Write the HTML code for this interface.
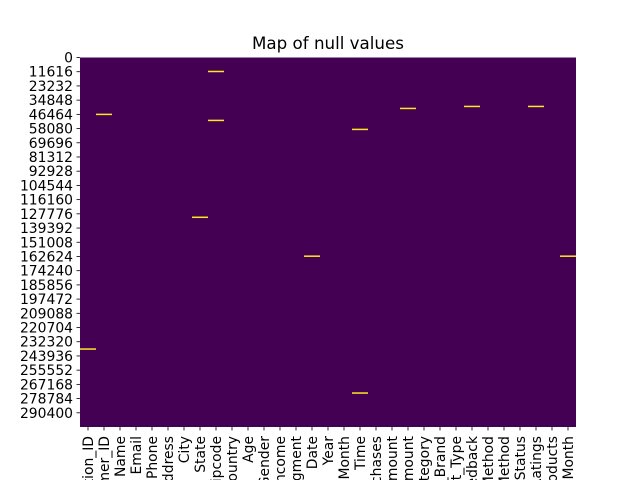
<!DOCTYPE html>
<html><head><meta charset="utf-8"><style>
html,body{margin:0;padding:0;background:#fff;width:640px;height:480px;overflow:hidden}
svg{display:block;font-family:"DejaVu Sans","Liberation Sans",sans-serif;overflow:hidden}
</style></head><body>
<svg id="chart" width="640" height="480" viewBox="0 0 640 480">
<defs><clipPath id="frame"><rect x="0" y="0" width="640" height="480"/></clipPath></defs>
<text x="328" y="49" font-size="16.7" text-anchor="middle" fill="#000">Map of null values</text>
<rect x="80" y="57.5" width="496" height="369.5" fill="#440154"/>
<g id="marks"></g><g id="yaxis"></g><g id="xaxis" clip-path="url(#frame)"></g>
</svg>
<script>
const columns = ["Transaction_ID","Customer_ID","Name","Email","Phone","Address","City","State","Zipcode","Country","Age","Gender","Income","Customer_Segment","Date","Year","Month","Time","Total_Purchases","Amount","Total_Amount","Product_Category","Product_Brand","Product_Type","Feedback","Shipping_Method","Payment_Method","Order_Status","Ratings","products","Month"];
const nullCols = [0,1,8,8,7,14,17,17,20,24,28,30];
const nullRows = [238300,46500,11430,51420,130600,162400,58770,274250,41630,40000,40000,162400];
const totalRows = 302010;
const yTicks = [0,11616,23232,34848,46464,58080,69696,81312,92928,104544,116160,127776,139392,151008,162624,174240,185856,197472,209088,220704,232320,243936,255552,267168,278784,290400];

const NS="http://www.w3.org/2000/svg";
const L=80,T=57.5,W=496,H=369.5;
const cw=W/columns.length;
const xPos=i=>L+cw*i;
const yPos=r=>T+H*r/totalRows;
function mk(tag,attrs,parent){const e=document.createElementNS(NS,tag);for(const k in attrs)e.setAttribute(k,attrs[k]);parent.appendChild(e);return e;}
const marks=document.getElementById('marks'),ya=document.getElementById('yaxis'),xa=document.getElementById('xaxis');
for(let i=0;i<nullCols.length;i++){
  const r=mk('rect',{x:xPos(nullCols[i]),y:yPos(nullRows[i])-0.75,width:cw,height:1.5,fill:'#fde725'},marks);
  
  
}
yTicks.forEach(v=>{
  const y=yPos(v);
  const l=mk('line',{x1:76.5,x2:80,y1:y,y2:y,stroke:'#000','stroke-width':0.8},ya);
  
  
  const t=mk('text',{x:73,y:y+5,'font-size':13.9,'text-anchor':'end',fill:'#000'},ya);
  t.textContent=v;
  
  
});
columns.forEach((c,i)=>{
  const x=xPos(i)+cw/2;
  const l=mk('line',{x1:x,x2:x,y1:427,y2:430.5,stroke:'#000','stroke-width':0.8},xa);
  
  
  const t=mk('text',{x:0,y:0,'font-size':13.9,'text-anchor':'end',fill:'#000',transform:`translate(${x+5},436) rotate(-90)`},xa);
  t.textContent=c;
  
  
});
</script>
</body></html>
